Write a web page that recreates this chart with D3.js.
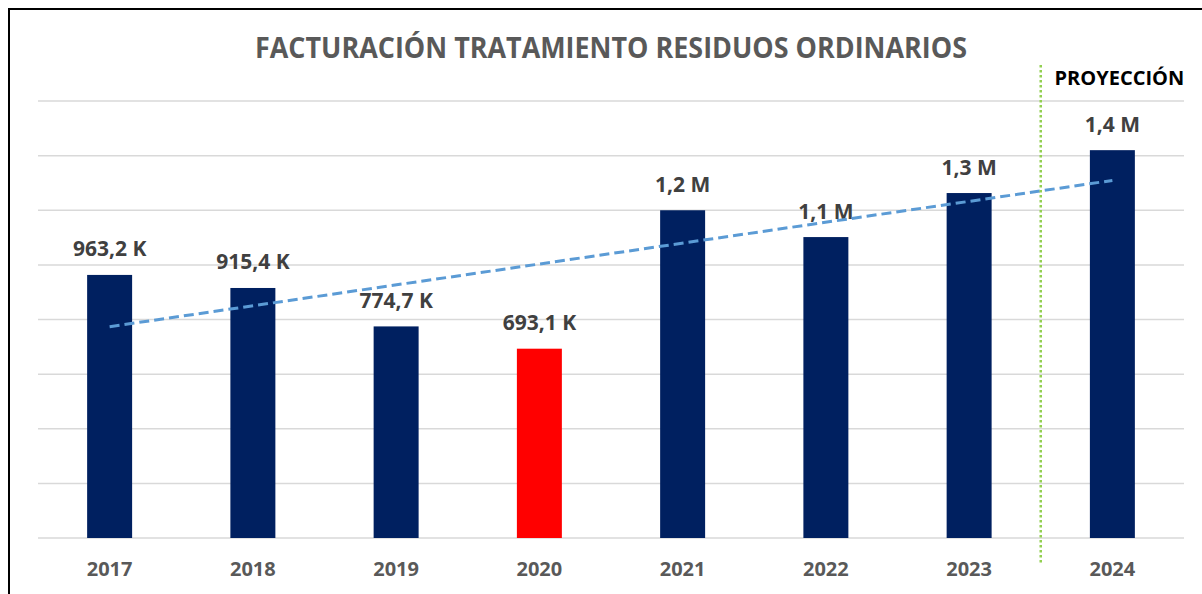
<!DOCTYPE html>
<html>
<head>
<meta charset="utf-8">
<script src="https://cdn.jsdelivr.net/npm/d3@7"></script>
<style>
  body { margin: 0; background: #fff; }
  svg { display: block; font-family: "Open Sans", sans-serif; }
</style>
</head>
<body>
<svg id="chart" width="1202" height="594"></svg>
<script>
// data (values in thousands of euros)
const years = ["2017", "2018", "2019", "2020", "2021", "2022", "2023", "2024"];
const values = [963.2, 915.4, 774.7, 693.1, 1200, 1101.8, 1263, 1420];
const labels = ["963,2 K", "915,4 K", "774,7 K", "693,1 K", "1,2 M", "1,1 M", "1,3 M", "1,4 M"];
const highlightYear = "2020";
const projectionYear = "2024";
const yTicks = [0, 200, 400, 600, 800, 1000, 1200, 1400, 1600];

let svg = d3.select("#chart");
let margin = { left: 38, right: 18, top: 101, bottom: 56 };
let width = 1202 - margin.left - margin.right;
let height = 594 - margin.top - margin.bottom;

// frame (left and top edges visible)
svg.append("line")
  .attr("x1", 9).attr("x2", 9).attr("y1", 8).attr("y2", 594)
  .attr("stroke", "#000").attr("stroke-width", 2);
svg.append("line")
  .attr("x1", 8).attr("x2", 1202).attr("y1", 9).attr("y2", 9)
  .attr("stroke", "#000").attr("stroke-width", 2);

let g = svg.append("g")
  .attr("transform", "translate(" + margin.left + "," + margin.top + ")");

let x = d3.scaleBand().domain(years).range([0, width]).paddingInner(0.686).paddingOuter(0.343);
let y = d3.scaleLinear().domain([0, 1600]).range([height, 0]);

// gridlines
g.selectAll(".grid")
  .data(yTicks)
  .enter()
  .append("line")
  .attr("class", "grid")
  .attr("x1", 0).attr("x2", width)
  .attr("y1", d => y(d)).attr("y2", d => y(d))
  .attr("stroke", "#D9D9D9")
  .attr("stroke-width", 1.5);

// bars
g.selectAll(".bar")
  .data(years)
  .enter()
  .append("rect")
  .attr("class", "bar")
  .attr("x", d => x(d))
  .attr("width", x.bandwidth())
  .attr("y", (d, i) => y(values[i]))
  .attr("height", (d, i) => y(0) - y(values[i]))
  .attr("fill", d => d === highlightYear ? "#FF0000" : "#002060");

// value labels
g.selectAll(".val")
  .data(years)
  .enter()
  .append("text")
  .attr("class", "val")
  .attr("x", d => x(d) + x.bandwidth() / 2)
  .attr("y", (d, i) => y(values[i]) - 18.5)
  .attr("text-anchor", "middle")
  .attr("font-size", "21px")
  .attr("font-weight", "bold")
  .attr("fill", "#404040")
  .text((d, i) => labels[i]);

// linear trend line over all years
let xs = years.map((d, i) => i);
let mx = d3.mean(xs), my = d3.mean(values);
let slope = d3.sum(xs, i => (i - mx) * (values[i] - my)) / d3.sum(xs, i => (i - mx) * (i - mx));
let icpt = my - slope * mx;
let trend = [0, years.length - 1].map(i => [x(years[i]) + x.bandwidth() / 2, y(icpt + slope * i)]);
g.append("path")
  .attr("d", d3.line()(trend))
  .attr("fill", "none")
  .attr("stroke", "#5B9BD5")
  .attr("stroke-width", 3)
  .attr("stroke-dasharray", "10,5");

// projection separator
let sepX = (x(years[6]) + x.bandwidth() + x(projectionYear)) / 2;
g.append("line")
  .attr("x1", sepX).attr("x2", sepX)
  .attr("y1", 65 - margin.top).attr("y2", 563 - margin.top)
  .attr("stroke", "#92D050")
  .attr("stroke-width", 2.5)
  .attr("stroke-dasharray", "2.5,2.5");

g.append("text")
  .attr("x", x(projectionYear) + x.bandwidth() / 2 + 7)
  .attr("y", 85 - margin.top)
  .attr("text-anchor", "middle")
  .attr("font-size", "20px")
  .attr("font-weight", "bold")
  .attr("fill", "#000")
  .text("PROYECCIÓN");

// x axis labels
g.selectAll(".xlab")
  .data(years)
  .enter()
  .append("text")
  .attr("class", "xlab")
  .attr("x", d => x(d) + x.bandwidth() / 2)
  .attr("y", height + 38)
  .attr("text-anchor", "middle")
  .attr("font-size", "20px")
  .attr("font-weight", "bold")
  .attr("fill", "#595959")
  .text(d => d);

// title
svg.append("text")
  .attr("x", 611)
  .attr("y", 58)
  .attr("text-anchor", "middle")
  .attr("font-size", "28px")
  .attr("font-weight", "bold")
  .attr("fill", "#595959")
  .attr("textLength", 712)
  .attr("lengthAdjust", "spacingAndGlyphs")
  .text("FACTURACIÓN TRATAMIENTO RESIDUOS ORDINARIOS");
</script>
</body>
</html>
